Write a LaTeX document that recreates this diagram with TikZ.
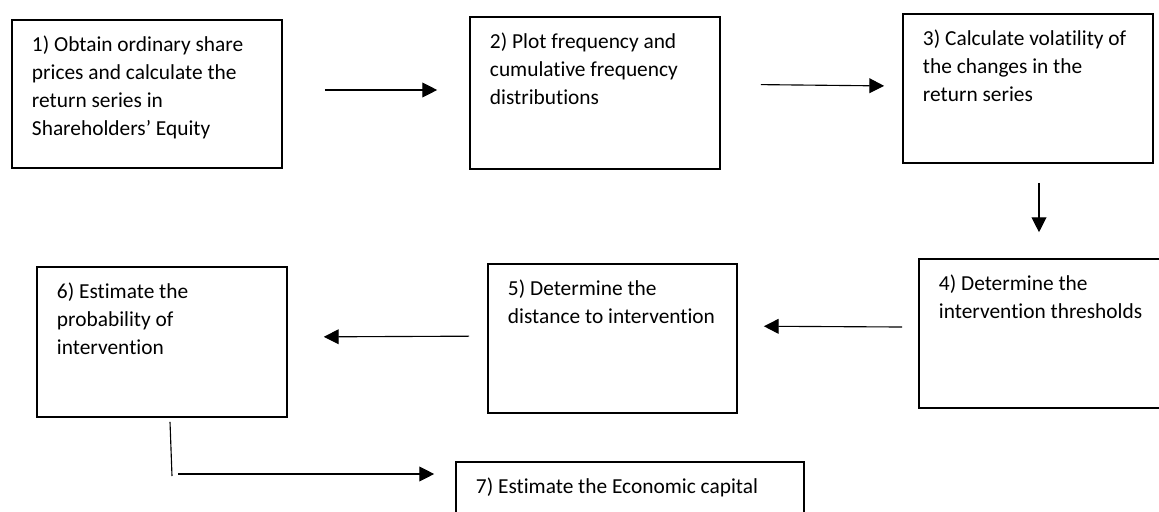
\documentclass[tikz,border=0pt]{standalone}
\usepackage{fontspec}
\setmainfont[Ligatures=NoCommon]{Carlito}
\usetikzlibrary{arrows.meta}

% text of a box, set from its top left corner
\newcommand{\stepbody}[3]{\parbox[c][#2][t]{#1}{\raggedright\strut #3}}

\begin{document}
\begin{tikzpicture}[x=0.025cm, y=-0.025cm,
    stepbox/.style={draw, line width=1.1pt, inner xsep=0.5cm, inner ysep=0.3cm,
        font=\fontsize{15.2pt}{19.92pt}\selectfont},
    link/.style={line width=0.8pt},
    arr/.style={link, -{Triangle[length=0.37cm, width=0.37cm]}}]

            % Marco de la figura
            \useasboundingbox (0,0) rectangle (1159,512);
            \clip (0,0) rectangle (1159,512);

            % Primera fila
            \node[stepbox] (obtain) at (147,94) {\stepbody{5.75cm}{3.1cm}{1) Obtain ordinary share\\prices and calculate the\\return series in\\Shareholders’ Equity}};
            \node[stepbox] (plot) at (595,93) {\stepbody{5.25cm}{3.2cm}{2) Plot frequency and\\cumulative frequency\\distributions}};
            \node[stepbox] (volatility) at (1028,88.5) {\stepbody{5.25cm}{3.125cm}{3) Calculate volatility of\\the changes in the\\return series}};

            % Segunda fila
            \node[stepbox] (thresholds) at (1044,333.5) {\stepbody{5.25cm}{3.125cm}{4) Determine the\\intervention thresholds}};
            \node[stepbox] (distance) at (612.5,338.5) {\stepbody{5.225cm}{3.125cm}{5) Determine the\\distance to intervention}};
            \node[stepbox] (probability) at (162,342) {\stepbody{5.25cm}{3.15cm}{6) Estimate the\\probability of\\intervention}};

            % Ultima caja
            \node[stepbox] (capital) at (630,496) {\stepbody{7.7cm}{1.1cm}{7) Estimate the Economic capital}};

            % Flechas de la primera fila
            \draw[arr, shorten <=1.05cm, shorten >=0.8cm] ([yshift=0.1cm]obtain.east) -- ([yshift=0.1cm]obtain.east -| plot.west);
            \draw[arr, shorten <=1cm, shorten >=0.45cm] ([yshift=0.22cm]plot.east) -- ([yshift=0.06cm]volatility.west);

            % Bajada a la segunda fila
            \draw[arr, shorten <=0.475cm, shorten >=0.65cm] ([xshift=0.275cm]volatility.south) -- ([xshift=0.275cm]volatility.south |- thresholds.north);

            % Flechas de la segunda fila
            \draw[arr, shorten <=0.4cm, shorten >=0.65cm] ([yshift=0.16cm]thresholds.west) -- ([yshift=0.31cm]distance.east);
            \draw[arr, shorten <=0.45cm, shorten >=0.9cm] ([yshift=0.06cm]distance.west) -- ([yshift=0.125cm]probability.east);

            % Salida hacia la ultima caja
            \coordinate (corner) at (172,474);
            \draw[link] ([xshift=0.2cm, yshift=-0.1cm]probability.south) -- ([yshift=-0.05cm]corner);
            \draw[arr, shorten <=0.15cm, shorten >=0.525cm] (corner) -- (corner -| capital.west);

        \end{tikzpicture}
\end{document}
